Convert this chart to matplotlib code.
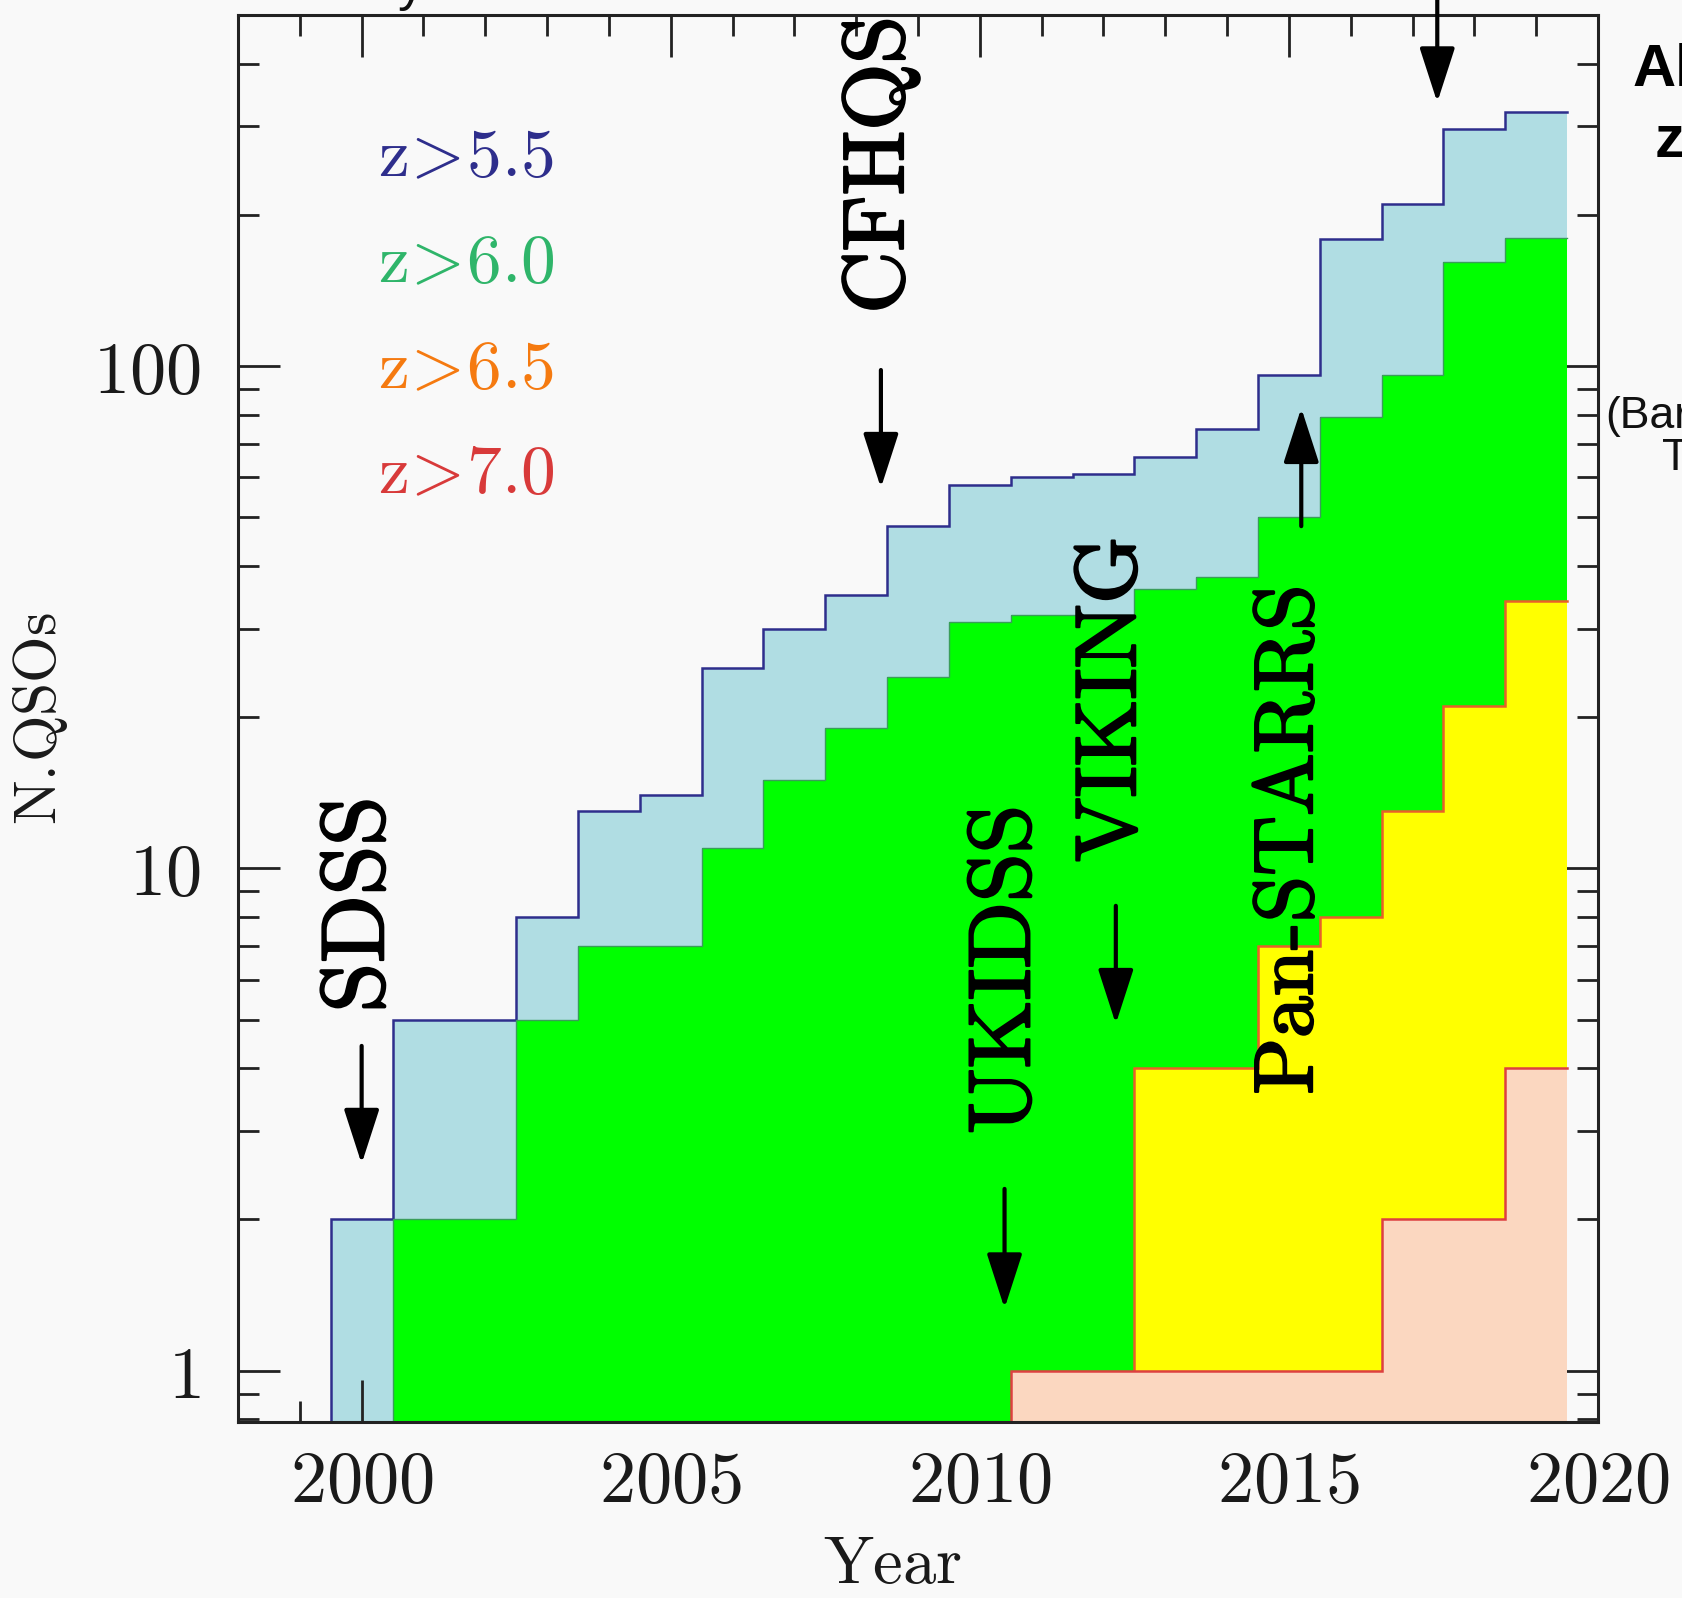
import matplotlib
matplotlib.use("Agg")
import matplotlib.pyplot as plt
import numpy as np
from matplotlib.ticker import FixedLocator, MultipleLocator, LogLocator, NullFormatter, FixedFormatter
from matplotlib import patheffects as pe

plt.rcParams['mathtext.fontset'] = 'cm'

# ---------------- data ----------------
years_z55 = list(range(2000, 2020))
n_z55 = [2, 5, 5, 8, 13, 14, 25, 30, 35, 48, 58, 60, 61, 66, 75, 96, 179, 210, 297, 320]

years_z60 = list(range(2001, 2020))
n_z60 = [2, 2, 5, 7, 7, 11, 15, 19, 24, 31, 32, 32, 36, 38, 50, 79, 96, 161, 180]

years_z65 = list(range(2013, 2020))
n_z65 = [4, 4, 7, 8, 13, 21, 34]

years_z70 = list(range(2011, 2020))
n_z70 = [1, 1, 1, 1, 1, 1, 2, 2, 4]

series_labels = ["z>5.5", "z>6.0", "z>6.5", "z>7.0"]

x_ticks = [2000, 2005, 2010, 2015, 2020]
x_ticklabels = ["2000", "2005", "2010", "2015", "2020"]
y_ticks = [1, 10, 100]
y_ticklabels = ["1", "10", "100"]

surveys = ["SDSS", "CFHQS", "UKIDSS", "VIKING", "Pan-STARRS"]
survey_year = [2000.0, 2008.4, 2010.4, 2012.2, 2015.2]

# ---------------- style ----------------
YMIN, YMAX = 0.79, 500
fill_colors = ["#b0dde3", "#00ff00", "#ffff00", "#fbd7c0"]
edge_colors = ["#2e2e8c", "#3a9d5a", "#e8602a", "#dd4040"]
label_colors = ["#2e2e8c", "#2fb56a", "#f57a10", "#d83a3a"]
bg = "#f9f9f9"

fig = plt.figure(figsize=(16.82, 15.98), dpi=100, facecolor=bg)
ax = fig.add_axes([238/1682, 1-1422/1598, (1598-238)/1682, (1422-15)/1598])
ax.set_facecolor(bg)
ax.set_yscale('log')
ax.set_xlim(1998, 2020)
ax.set_ylim(YMIN, YMAX)

all_series = [(years_z55, n_z55), (years_z60, n_z60), (years_z65, n_z65), (years_z70, n_z70)]
for i, (yrs, vals) in enumerate(all_series):
    yrs = np.array(yrs, dtype=float)
    vals = np.array(vals, dtype=float)
    edges = np.append(yrs - 0.5, yrs[-1] + 0.5)
    ax.stairs(vals, edges, baseline=YMIN, fill=True, color=fill_colors[i], linewidth=0, zorder=1 + i)
    xs = np.concatenate([[edges[0]], edges])
    ys = np.concatenate([[YMIN], vals, [vals[-1]]])
    ax.plot(xs, ys, drawstyle='steps-post', color=edge_colors[i],
            lw=1.8 if i != 1 else 1.0, zorder=1.5 + i, solid_joinstyle='miter')

# ticks
ax.xaxis.set_major_locator(FixedLocator(x_ticks))
ax.xaxis.set_major_formatter(FixedFormatter([r'$\mathrm{%s}$' % t for t in x_ticklabels]))
ax.xaxis.set_minor_locator(MultipleLocator(1))
ax.yaxis.set_major_locator(FixedLocator(y_ticks))
ax.yaxis.set_major_formatter(FixedFormatter([r'$\mathrm{%s}$' % t for t in y_ticklabels]))
ax.yaxis.set_minor_locator(LogLocator(base=10, subs=np.arange(2, 10)))
ax.yaxis.set_minor_formatter(NullFormatter())
ax.tick_params(which='both', direction='in', top=True, right=True, width=2, color='#222222', zorder=10)
ax.tick_params(which='major', length=30, labelsize=52)
ax.tick_params(axis='x', which='major', pad=19)
ax.tick_params(axis='y', which='major', pad=27)
ax.tick_params(which='minor', length=15)
for sp in ax.spines.values():
    sp.set_linewidth(2.2)
    sp.set_color('#222222')
    sp.set_zorder(20)

for lab in ax.get_xticklabels() + ax.get_yticklabels():
    lab.set_color('#1a1a1a')

# legend labels
for i, lab in enumerate(series_labels):
    z, val = lab.split(">")
    ax.text(0.103, 0.885 - 0.075 * i, r'$\mathrm{%s}\!>\!\mathrm{%s}$' % (z, val),
            transform=ax.transAxes, fontsize=50, color=label_colors[i],
            ha='left', va='baseline', zorder=30)

# survey labels and arrows
text_pos = [(1999.96, 8.42), (2008.4, 250), (2010.42, 6.25), (2012.14, 21.6), (2015.0, 11.34)]
text_size = [64, 62, 63, 62, 60]
arrow_tail = [4.43, 98.2, 2.30, 8.42, 48.0]
arrow_tip = [2.58, 57.2, 1.33, 4.90, 82.5]
bold = [pe.withStroke(linewidth=1.6, foreground='black')]
for name, (tx, ty), fs, xa, ya0, ya1 in zip(surveys, text_pos, text_size, survey_year, arrow_tail, arrow_tip):
    ax.text(tx, ty, r'$\mathrm{%s}$' % name.replace('-', '\\text{-}'), rotation=90,
            fontsize=fs, ha='center', va='center', color='black', zorder=30,
            path_effects=bold)
    ax.annotate('', xy=(xa, ya1), xytext=(xa, ya0),
                arrowprops=dict(arrowstyle='-|>,head_length=1.7,head_width=0.55',
                                lw=3, color='black', mutation_scale=20,
                                shrinkA=0, shrinkB=0),
                zorder=30, annotation_clip=False)

# arrow from a cut-off label above the plot
ax.annotate('', xy=(2017.4, 335), xytext=(2017.4, 560),
            arrowprops=dict(arrowstyle='-|>,head_length=1.7,head_width=0.55',
                            lw=3, color='black', mutation_scale=20,
                            shrinkA=0, shrinkB=0),
            zorder=30, annotation_clip=False)

# axis labels
fig.text(41/1682, 1-719/1598, r'$\mathrm{N.\!QSOs}$', rotation=90, fontsize=43,
         ha='center', va='center', color='#1a1a1a')
fig.text(893/1682, 1-1583/1598, r'$\mathrm{Year}$', fontsize=48,
         ha='center', va='baseline', color='#1a1a1a')

# cut-off slide text on the right and at the top
fig.text(1633/1682, 1-86/1598, 'Al', fontsize=43, fontweight='bold',
         family='Liberation Sans', ha='left', va='baseline', color='black')
fig.text(1655/1682, 1-157/1598, 'z', fontsize=43, fontweight='bold',
         family='Liberation Sans', ha='left', va='baseline', color='black')
fig.text(1605/1682, 1-428/1598, '(Bar', fontsize=32,
         family='Liberation Sans', ha='left', va='baseline', color='#111111')
fig.text(1662/1682, 1-470/1598, 'T', fontsize=32,
         family='Liberation Sans', ha='left', va='baseline', color='#111111')
fig.text(398/1682, 1.0, 'y', fontsize=38,
         family='Liberation Sans', ha='left', va='baseline', color='#111111')

fig.savefig("out.png", dpi=100, facecolor=bg)
